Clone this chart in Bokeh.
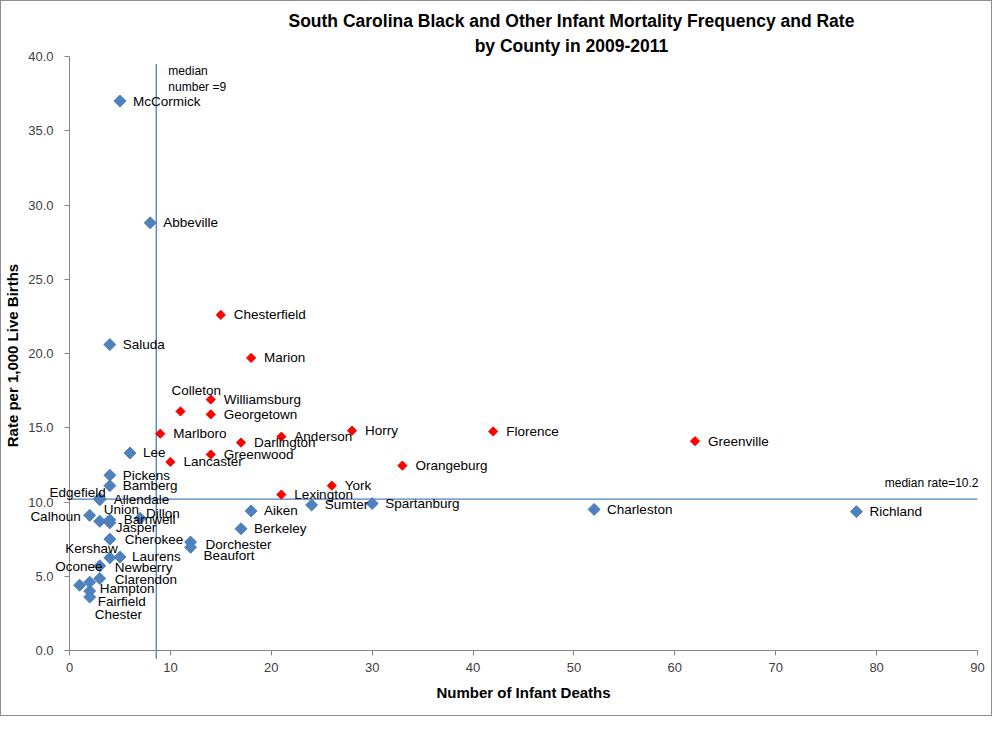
import numpy as np
from bokeh.plotting import figure
from bokeh.models import ColumnDataSource, LabelSet, Label, FixedTicker, PrintfTickFormatter, Range1d
from bokeh.core.properties import value
from bokeh.embed import file_html
from bokeh.resources import INLINE

# ---------------- data ----------------
blue_names = ["McCormick", "Abbeville", "Saluda", "Lee", "Pickens", "Bamberg", "Edgefield",
              "Allendale", "Calhoun", "Union", "Barnwell", "Jasper", "Dillon", "Cherokee",
              "Kershaw", "Laurens", "Newberry", "Oconee", "Clarendon", "Hampton", "Fairfield",
              "Chester", "Dorchester", "Beaufort", "Aiken", "Berkeley", "Sumter", "Spartanburg",
              "Charleston", "Richland"]
blue_deaths = [5, 8, 4, 6, 4, 4, 3, 3, 2, 3, 4, 4, 7, 4, 4, 5, 3, 1, 3, 2, 2, 2, 12, 12, 18, 17,
               24, 30, 52, 78]
blue_rates = [37.0, 28.8, 20.6, 13.3, 11.8, 11.1, 10.25, 10.15, 9.1, 8.7, 8.8, 8.6, 8.9, 7.5,
              6.25, 6.3, 5.7, 4.4, 4.85, 4.6, 4.0, 3.6, 7.3, 6.95, 9.4, 8.2, 9.8, 9.9, 9.5, 9.35]

red_names = ["Chesterfield", "Marion", "Colleton", "Williamsburg", "Georgetown", "Marlboro",
             "Darlington", "Anderson", "Horry", "Greenwood", "Lancaster", "York", "Lexington",
             "Florence", "Greenville", "Orangeburg"]
red_deaths = [15, 18, 11, 14, 14, 9, 17, 21, 28, 14, 10, 26, 21, 42, 62, 33]
red_rates = [22.6, 19.7, 16.1, 16.9, 15.9, 14.6, 14.0, 14.4, 14.8, 13.2, 12.7, 11.1, 10.5,
             14.75, 14.1, 12.45]

median_number = 9
median_number_line = 8.6
median_rate = 10.2

x_ticks = [0, 10, 20, 30, 40, 50, 60, 70, 80, 90]
y_ticks = [0, 5, 10, 15, 20, 25, 30, 35, 40]

title_lines = ["South Carolina Black and Other Infant Mortality Frequency and Rate",
               "by County in 2009-2011"]

# ---------------- label placement (pixels: dx right, dy down, align) ----------------
label_pos = {
    "Edgefield": (6, -6, "right"),
    "Allendale": (14, 0, "left"),
    "Calhoun": (-9, 1, "right"),
    "Union": (4, -12, "left"),
    "Barnwell": (14, 0, "left"),
    "Jasper": (6, 5, "left"),
    "Dillon": (6, -5, "left"),
    "Cherokee": (15, 0, "left"),
    "Kershaw": (8, -9, "right"),
    "Laurens": (12, 0, "left"),
    "Newberry": (15, 2, "left"),
    "Oconee": (23, -19, "right"),
    "Clarendon": (15, 1, "left"),
    "Hampton": (10, 6, "left"),
    "Fairfield": (8, 10, "left"),
    "Chester": (5, 17, "left"),
    "Dorchester": (15, 2, "left"),
    "Beaufort": (13, 8, "left"),
    "Colleton": (-9, -21, "left"),
}
DEFAULT_POS = (13, 0, "left")

FONT = "Liberation Sans"
BLUE = "#4F81BD"
RED = "#FF0000"
LINE = "#4A7EBB"
AXIS = "#868686"

# frame covers the whole canvas; axes are pinned at x=0 / y=0
W, H = 992, 716
PX_X = 908 / 90.0           # px per death
PX_Y = 594 / 40.0           # px per rate unit
LEFT, TOP = 68, 55          # px from canvas edge to x=0 / y=40
x_start = -LEFT / PX_X
x_end = x_start + W / PX_X
y_end = 40 + TOP / PX_Y
y_start = y_end - H / PX_Y

p = figure(width=W, height=H, output_backend="svg", toolbar_location=None,
           x_range=Range1d(x_start, x_end), y_range=Range1d(y_start, y_end),
           min_border_left=0, min_border_right=0, min_border_top=0, min_border_bottom=0)
p.styles = {"border": "1px solid #8c8c8c"}
p.outline_line_color = None
p.xgrid.visible = False
p.ygrid.visible = False
p.background_fill_color = "white"
p.border_fill_color = "white"

for ax in (p.xaxis[0], p.yaxis[0]):
    ax.axis_line_color = AXIS
    ax.major_tick_line_color = AXIS
    ax.minor_tick_line_color = None
    ax.major_tick_out = 5
    ax.major_tick_in = 0
    ax.major_label_text_color = "#404040"
    ax.major_label_text_font = FONT
    ax.major_label_text_font_size = "13px"
    ax.axis_label_text_font = FONT
    ax.axis_label_text_font_style = "bold"
    ax.axis_label_text_font_size = "15px"
    ax.axis_label_text_color = "#000000"

p.xaxis.ticker = FixedTicker(ticks=x_ticks)
p.yaxis.ticker = FixedTicker(ticks=y_ticks)
p.xaxis.bounds = (0, 90)
p.yaxis.bounds = (0, 40)
p.xaxis.fixed_location = 0
p.yaxis.fixed_location = 0
p.yaxis.formatter = PrintfTickFormatter(format="%.1f")
p.xaxis.axis_label = "Number of Infant Deaths"
p.yaxis.axis_label = "Rate  per 1,000 Live Births"
p.xaxis.major_label_standoff = 7
p.yaxis.major_label_standoff = 11
p.xaxis.axis_label_standoff = 9
p.yaxis.axis_label_standoff = 4

# median lines
p.line(x=[median_number_line, median_number_line], y=[-0.55, 39.5], line_color=LINE, line_width=1.3)
p.line(x=[0, 90], y=[median_rate, median_rate], line_color=LINE, line_width=1.3)


def build(names, xs, ys):
    dxs, dys, aligns = [], [], []
    for n in names:
        dx, dy, al = label_pos.get(n, DEFAULT_POS)
        dxs.append(dx)
        dys.append(-dy)
        aligns.append(al)
    return dict(name=names, x=xs, y=ys, dx=dxs, dy=dys, align=aligns)


bsrc = ColumnDataSource(build(blue_names, blue_deaths, blue_rates))
rsrc = ColumnDataSource(build(red_names, red_deaths, red_rates))

p.scatter(x="x", y="y", source=bsrc, marker="square", size=8.5, angle=np.pi / 4,
          fill_color=BLUE, line_color=BLUE)
p.scatter(x="x", y="y", source=rsrc, marker="square", size=6.5, angle=np.pi / 4,
          fill_color=RED, line_color=RED)

for src in (bsrc, rsrc):
    d = src.data
    for al in ("left", "right"):
        idx = [i for i, a in enumerate(d["align"]) if a == al]
        if not idx:
            continue
        sub = ColumnDataSource({k: [d[k][i] for i in idx] for k in d})
        p.add_layout(LabelSet(x="x", y="y", text="name", x_offset="dx", y_offset="dy",
                              source=sub, text_align=al, text_baseline="middle",
                              text_font=value(FONT), text_font_size="13.5px",
                              text_color="#000000"))

# annotations
p.add_layout(Label(x=9.8, y=39.05, text="median", text_font=FONT, text_font_size="12px",
                   text_baseline="middle", text_color="#000000"))
p.add_layout(Label(x=9.8, y=37.95, text="number =%d" % median_number, text_font=FONT,
                   text_font_size="12px", text_baseline="middle", text_color="#000000"))
p.add_layout(Label(x=90.1, y=11.3, text="median rate=%.1f" % median_rate, text_font=FONT,
                   text_font_size="12px", text_align="right", text_baseline="middle",
                   text_color="#000000"))

# title
p.add_layout(Label(x=49.75, y=42.36, text=title_lines[0], text_font=FONT, text_font_size="17.5px",
                   text_font_style="bold", text_align="center", text_baseline="middle",
                   text_color="#000000"))
p.add_layout(Label(x=49.75, y=40.68, text=title_lines[1], text_font=FONT, text_font_size="17.5px",
                   text_font_style="bold", text_align="center", text_baseline="middle",
                   text_color="#000000"))

open("out.html", "w").write(file_html(p, INLINE))
